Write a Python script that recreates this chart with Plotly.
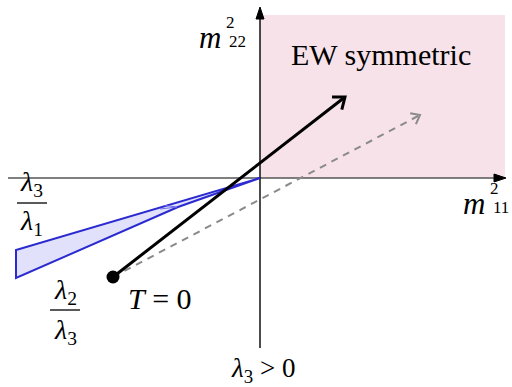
import plotly.graph_objects as go
import numpy as np

# ---- data (coordinates in the (m11^2, m22^2) plane, arbitrary units) ----
region_x = [0, 245]          # EW symmetric quadrant extent
region_y = [0, 163]
wedge_x = [0, -244, -244, -82, 0]   # blue wedge boundary
wedge_y = [0, -72, -100, -29, 0]
t0_x, t0_y = -147, -99              # T = 0 point
path_end_x, path_end_y = 85, 81     # thermal path (solid)
alt_end_x, alt_end_y = 160, 63      # alternative path (dashed)
xaxis_ext = [-252, 246]
yaxis_ext = [-170, 171]

SERIF = "Liberation Serif, DejaVu Serif, serif"

fig = go.Figure()

# pink region
fig.add_shape(type="rect", x0=region_x[0], x1=region_x[1], y0=region_y[0], y1=region_y[1],
              fillcolor="#f8e2ea", line=dict(width=0), layer="below")

# axes lines
fig.add_trace(go.Scatter(x=[xaxis_ext[0], xaxis_ext[1] - 4], y=[0, 0], mode="lines",
                         line=dict(color="#555555", width=1.6), hoverinfo="skip"))
fig.add_trace(go.Scatter(x=[0, 0], y=[yaxis_ext[0], yaxis_ext[1] - 4], mode="lines",
                         line=dict(color="black", width=1.4), hoverinfo="skip"))
# axis arrowheads (filled triangles)
fig.add_trace(go.Scatter(x=[xaxis_ext[1] - 12, xaxis_ext[1], xaxis_ext[1] - 12, xaxis_ext[1] - 12],
                         y=[4, 0, -4, 4], mode="lines", fill="toself", fillcolor="black",
                         line=dict(color="black", width=1), hoverinfo="skip"))
fig.add_trace(go.Scatter(x=[-4, 0, 4, -4], y=[yaxis_ext[1] - 12, yaxis_ext[1], yaxis_ext[1] - 12, yaxis_ext[1] - 12],
                         mode="lines", fill="toself", fillcolor="black",
                         line=dict(color="black", width=1), hoverinfo="skip"))

# blue wedge
fig.add_trace(go.Scatter(x=wedge_x, y=wedge_y, mode="lines", fill="toself",
                         fillcolor="rgba(225,225,252,1)",
                         line=dict(color="#2a2ad0", width=2), hoverinfo="skip"))
# inner lighter contour near the tip
fig.add_trace(go.Scatter(x=[-95, -83, -100], y=[-27.5, -29, -31], mode="lines",
                         line=dict(color="#6f6fe8", width=1.2), hoverinfo="skip"))


def arrow_head(x0, y0, x1, y1, length, angle_deg):
    d = np.array([x1 - x0, y1 - y0], dtype=float)
    d /= np.linalg.norm(d)
    a = np.radians(angle_deg)
    out = []
    for s in (1, -1):
        c, sn = np.cos(s * a), np.sin(s * a)
        r = np.array([c * d[0] - sn * d[1], sn * d[0] + c * d[1]])
        out.append((x1 - length * r[0], y1 - length * r[1]))
    return [out[0][0], x1, out[1][0]], [out[0][1], y1, out[1][1]]


# dashed path
fig.add_trace(go.Scatter(x=[t0_x, alt_end_x], y=[t0_y, alt_end_y], mode="lines",
                         line=dict(color="#8a8a8a", width=2, dash="7px,6px"), hoverinfo="skip"))
hx, hy = arrow_head(t0_x, t0_y, alt_end_x, alt_end_y, 10, 38)
fig.add_trace(go.Scatter(x=hx, y=hy, mode="lines", line=dict(color="#8a8a8a", width=2), hoverinfo="skip"))

# solid path
fig.add_trace(go.Scatter(x=[t0_x, path_end_x], y=[t0_y, path_end_y], mode="lines",
                         line=dict(color="black", width=3), hoverinfo="skip"))
hx, hy = arrow_head(t0_x, t0_y, path_end_x, path_end_y, 13, 38)
fig.add_trace(go.Scatter(x=hx, y=hy, mode="lines", line=dict(color="black", width=3), hoverinfo="skip"))

# T=0 dot
fig.add_trace(go.Scatter(x=[t0_x], y=[t0_y], mode="markers",
                         marker=dict(color="black", size=13), hoverinfo="skip"))

# fraction bars
fig.add_shape(type="line", x0=-243, x1=-213, y0=-25, y1=-25, line=dict(color="black", width=1.3))
fig.add_shape(type="line", x0=-210, x1=-180, y0=-132, y1=-132, line=dict(color="black", width=1.3))


def txt(x, y, s, size=21, xanchor="center"):
    fig.add_annotation(x=x, y=y, text=s, showarrow=False, xanchor=xanchor, yanchor="middle",
                       font=dict(family=SERIF, size=size, color="black"))


txt(121, 124, "EW symmetric", 30)
# m22^2
txt(-50, 141, "<i>m</i>", 31)
txt(-30, 156, "2", 17)
txt(-23, 137, "22", 17)
# m11^2
txt(214, -25, "<i>m</i>", 31)
txt(234, -10, "2", 17)
txt(241, -29, "11", 17)
# fractions
txt(-229, -5, "<i>λ</i><sub>3</sub>", 28)
txt(-229, -44, "<i>λ</i><sub>1</sub>", 28)
txt(-195, -113, "<i>λ</i><sub>2</sub>", 28)
txt(-195, -153, "<i>λ</i><sub>3</sub>", 28)
txt(-100, -120, "<i>T</i> = 0", 30)
txt(3, -192, "<i>λ</i><sub>3</sub> > 0", 27)

fig.update_layout(
    width=512, height=387, margin=dict(l=0, r=0, t=0, b=0),
    plot_bgcolor="white", paper_bgcolor="white", showlegend=False,
    xaxis=dict(range=[-260, 252], visible=False, fixedrange=True),
    yaxis=dict(range=[-209, 178], visible=False, fixedrange=True),
)
fig.write_html("out.html")
